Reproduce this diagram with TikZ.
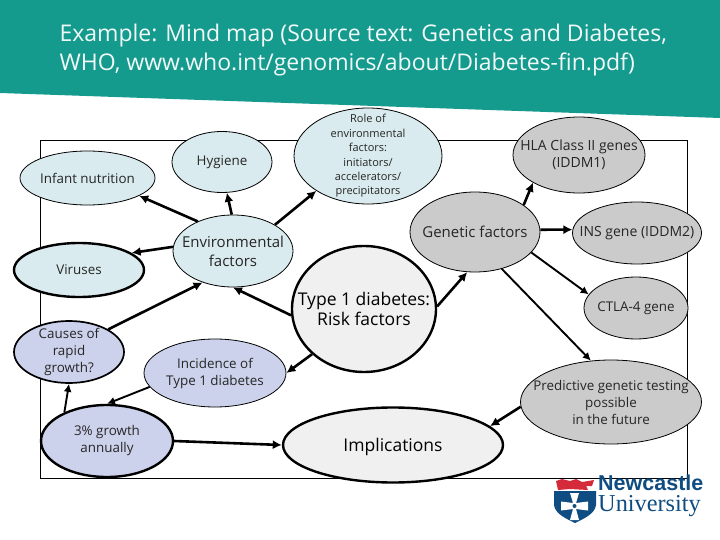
\documentclass[tikz,border=0pt]{standalone}
\usepackage{fontspec}
\setmainfont{Open Sans}
\newfontfamily\logoserif{Liberation Serif}
\newfontfamily\logosans{Liberation Sans}
\usepackage{xcolor}
\usetikzlibrary{arrows.meta,shapes.geometric}
\definecolor{bannerteal}{HTML}{159A8E}
\definecolor{envfill}{HTML}{D9EBEE}
\definecolor{genefill}{HTML}{CBCBCB}
\definecolor{rootfill}{HTML}{F0F0F0}
\definecolor{growfill}{HTML}{CDD2EC}
\definecolor{logoblue}{HTML}{0F4C81}
\definecolor{logored}{HTML}{D42A3A}

\begin{document}
\begin{tikzpicture}[
  x=1pt, y=-1pt,
  % negative inner sep: the ellipse takes its size from the minimum keys only
  bubble/.style={draw, ellipse, inner xsep=-30pt, inner ysep=-22pt, align=center, line width=0.8pt, text=black!85},
  thickbubble/.style={bubble, line width=2.4pt},
  medbubble/.style={bubble, line width=1.7pt},
  arr/.style={line width=2.6pt, -{Latex[length=9pt,width=9pt]}},
  thinarr/.style={line width=1.9pt, -{Latex[length=8pt,width=8pt]}},
  small/.style={font=\fontsize{13.4}{17}\selectfont},
  gene/.style={font=\fontsize{14}{17}\selectfont},
  mid/.style={font=\fontsize{15}{19}\selectfont},
  big/.style={font=\fontsize{17.5}{20}\selectfont, text=black}
]
  \useasboundingbox (0,0) rectangle (720,540);
  % banner
  \fill[bannerteal] (0,0) -- (720,0) -- (720,118) -- (0,93) -- cycle;
  \node[anchor=west, align=left, text=white!94!bannerteal, font=\fontsize{23}{29}\selectfont] (title) at (56,50)
    {Example: Mind map (Source text: Genetics and Diabetes,\\WHO, www.who.int/genomics/about/Diabetes-fin.pdf)};
  \draw[line width=0.9pt] (40.5,140) rectangle (687,478);

  % environmental side
  \node[bubble, small, fill=envfill, minimum width=135pt, minimum height=54pt] (infant) at (87.5,178) {Infant nutrition};
  \node[bubble, small, fill=envfill, minimum width=100pt, minimum height=61pt] (hygiene) at (222,162) {Hygiene};
  \node[bubble, fill=envfill, minimum width=148pt, minimum height=96pt, font=\fontsize{11}{14.4}\selectfont] (role) at (368,156)
    {Role of\\environmental\\factors:\\initiators/\\accelerators/\\precipitators};
  \node[bubble, mid, fill=envfill, minimum width=120pt, minimum height=72pt] (env) at (233,251) {Environmental\\factors};
  \node[thickbubble, small, fill=envfill, minimum width=130pt, minimum height=54pt] (viruses) at (79,270) {Viruses};

  % genetic side
  \node[bubble, mid, fill=genefill, minimum width=130pt, minimum height=80pt] (genetic) at (475,232) {Genetic factors};
  \node[bubble, gene, fill=genefill, minimum width=132pt, minimum height=76pt] (hla) at (579,155) {HLA Class II genes\\(IDDM1)};
  \node[bubble, gene, fill=genefill, minimum width=129pt, minimum height=62pt] (ins) at (637,233) {INS gene (IDDM2)};
  \node[bubble, small, fill=genefill, minimum width=104pt, minimum height=62pt] (ctla) at (636,308) {CTLA-4 gene};
  \node[bubble, small, fill=genefill, minimum width=181pt, minimum height=84pt] (predict) at (611,402) {Predictive genetic testing\\possible\\in the future};

  % centre and bottom
  \node[thickbubble, big, fill=rootfill, minimum width=144pt, minimum height=126pt] (root) at (364,309) {Type 1 diabetes:\\Risk factors};
  \node[thickbubble, big, fill=rootfill, minimum width=220pt, minimum height=75pt, text height=18pt] (implic) at (393,445) {Implications};
  \node[medbubble, small, fill=growfill, minimum width=110pt, minimum height=62pt] (causes) at (69,352) {Causes of\\rapid\\growth?};
  \node[bubble, small, fill=growfill, minimum width=142pt, minimum height=68pt] (incid) at (215,373) {Incidence of\\Type 1 diabetes};
  \node[thickbubble, small, fill=growfill, minimum width=132pt, minimum height=72pt] (growth) at (107,441) {3\% growth\\annually};

  \foreach \a/\b in {env.140/infant.341, env.92/hygiene.279, env.32/role.214, env.176/viruses.18,
    causes.30/env.226, root.185/env.270, root.221/incid.0, root.2/genetic.259,
    genetic.29/hla.211, genetic.2/ins.177, growth.0/implic.180, predict.183/implic.11}
    \draw[arr] (\a) -- (\b);
  \foreach \a/\b in {genetic.340/ctla.164, genetic.306/predict.116, incid.192/growth.90, growth.146/causes.270}
    \draw[thinarr] (\a) -- (\b);

  % logo
  \fill[logoblue] (554,491) -- (596,491) -- (596,505) .. controls (595,514) and (583,519) .. (575,523) .. controls (567,519) and (555,514) .. (554,505) -- cycle;
  \fill[logored] (556,481) -- (562,479) -- (570,481) -- (576,479) -- (582,482) -- (594,480) -- (592,486) -- (586,486) -- (588,490) -- (570,489) -- (558,490) -- cycle;
  \fill[white] (570,493) -- (579,493) -- (576,503) -- (588,501.5) -- (588,510.5) -- (576,509) -- (579,520) -- (570,520) -- (573,509) -- (561,510.5) -- (561,501.5) -- (573,503) -- cycle;
  \fill[logoblue] (574.5,506) circle (2);
  \node[anchor=base west, inner sep=0pt, text=logoblue, font=\logosans\fontsize{21.5}{22}\selectfont\bfseries] (logotop) at (598,490) {Newcastle};
  \node[anchor=base west, inner sep=0pt, text=logoblue, font=\logoserif\fontsize{24.3}{25}\selectfont] (logobot) at (598,511) {University};
\end{tikzpicture}
\end{document}
